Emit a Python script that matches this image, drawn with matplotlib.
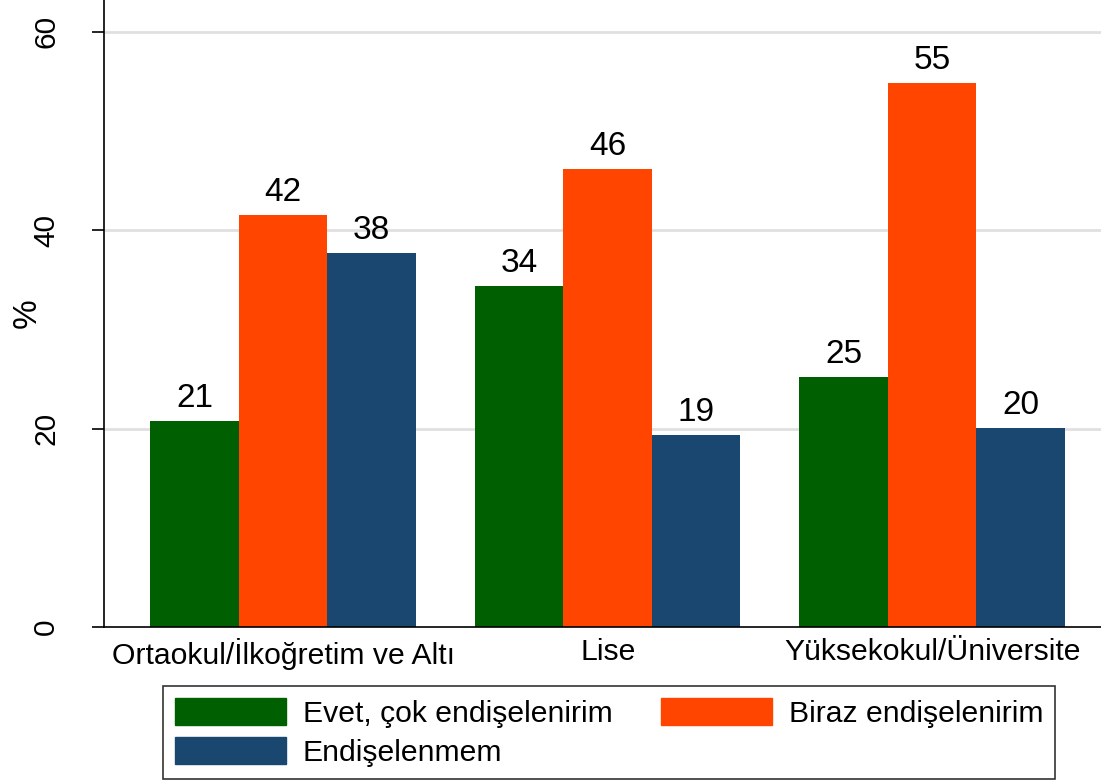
import matplotlib.pyplot as plt
from matplotlib.patches import Patch
import numpy as np

plt.rcParams['font.family'] = ['Liberation Sans', 'DejaVu Sans']

# education groups and answer shares (%)
groups = ["Ortaokul/İlkoğretim ve Altı", "Lise", "Yüksekokul/Üniversite"]
series_names = ["Evet, çok endişelenirim", "Biraz endişelenirim", "Endişelenmem"]
very_worried = [20.8, 34.4, 25.2]
somewhat_worried = [41.5, 46.2, 54.8]
not_worried = [37.7, 19.4, 20.1]
colors = ["#005f00", "#ff4500", "#1a476f"]

fig = plt.figure(figsize=(11.01, 7.81), dpi=100)
ax = fig.add_axes([104 / 1101, 1 - 627 / 781, 1 - 104 / 1101, 627 / 781])

x = np.arange(len(groups))
width = 0.2727

for i, vals in enumerate([very_worried, somewhat_worried, not_worried]):
    bars = ax.bar(x + (i - 1) * width, vals, width, color=colors[i],
                  label=series_names[i], zorder=2)
    for b, v in zip(bars, vals):
        ax.annotate(f"{v:.0f}", (b.get_x() + b.get_width() / 2, v),
                    xytext=(0, 10), textcoords='offset points',
                    ha='center', va='baseline', fontsize=24)

ax.set_xlim(-0.552, 2.52)
ax.set_ylim(0, 63.2)
ax.set_yticks([0, 20, 40, 60])
ax.set_yticklabels(["0", "20", "40", "60"], rotation=90, va='center')
ax.set_xticks(x)
ax.set_xticklabels(groups)
ax.tick_params(axis='x', length=0, pad=8, labelsize=21.7)
ax.tick_params(axis='y', length=8.5, width=1.2, pad=23, labelsize=21.5)
ax.set_ylabel("%", fontsize=24)
ax.yaxis.set_label_coords(-0.061, 0.5)

for yv in [20, 40, 60]:
    ax.axhline(yv, color='#e0e0e0', linewidth=2, zorder=1)

for s in ['top', 'right']:
    ax.spines[s].set_visible(False)
ax.spines['left'].set_linewidth(1.2)
ax.spines['bottom'].set_linewidth(1.2)

handles = [Patch(color=colors[0]), Patch(color=colors[2]), Patch(color=colors[1])]
labels = [series_names[0], series_names[2], series_names[1]]
leg = fig.legend(handles, labels, ncol=2, loc='lower center',
                 bbox_to_anchor=(609 / 1101, 2 / 781),
                 fontsize=21.7, frameon=True, fancybox=False,
                 handlelength=3.7, handleheight=1.0, handletextpad=0.55,
                 labelspacing=0.3, borderpad=0.4, columnspacing=1.6,
                 borderaxespad=0)
leg.get_frame().set_edgecolor('black')
leg.get_frame().set_linewidth(1.2)

fig.savefig("out.png", dpi=100)
